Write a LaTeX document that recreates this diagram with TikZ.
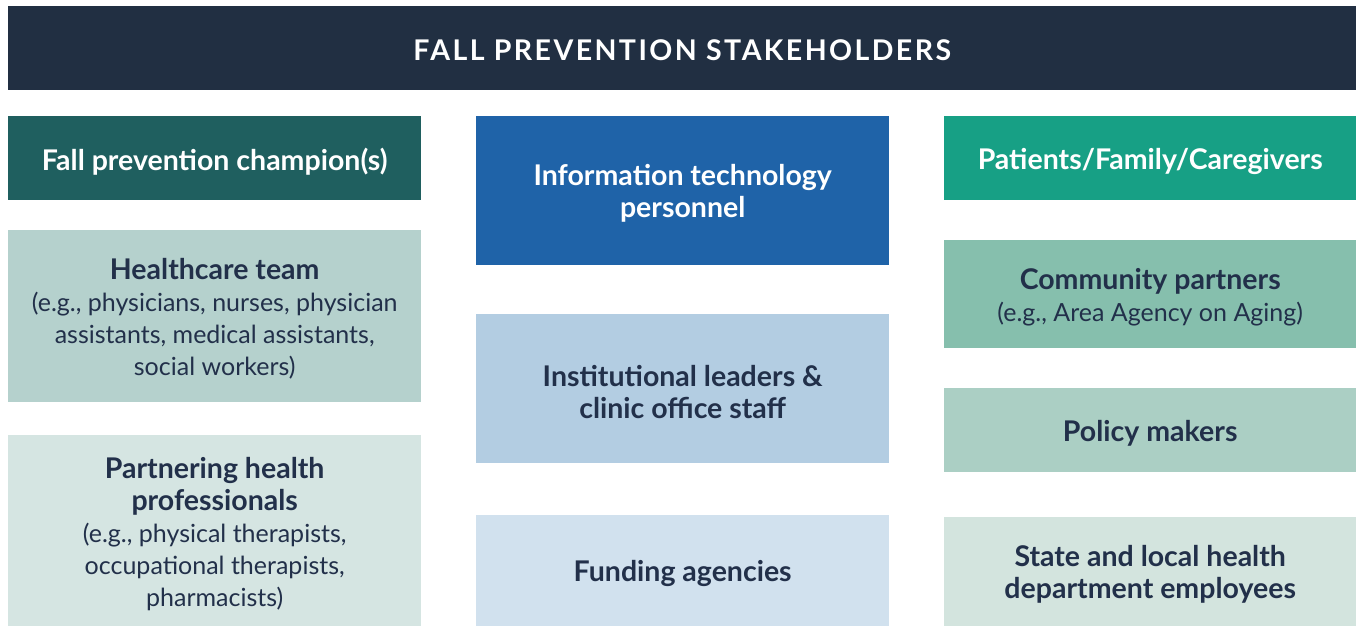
\documentclass[tikz,border=0pt]{standalone}
\usepackage{fontspec}
\setmainfont{Lato}
\definecolor{titlebg}{HTML}{212F42}
\definecolor{champ}{HTML}{1F5F5F}
\definecolor{hcteam}{HTML}{B5D1CD}
\definecolor{partner}{HTML}{D5E5E2}
\definecolor{itbg}{HTML}{1F63A8}
\definecolor{inst}{HTML}{B3CDE2}
\definecolor{fund}{HTML}{D1E1EE}
\definecolor{patient}{HTML}{17A085}
\definecolor{commun}{HTML}{86BFAD}
\definecolor{policy}{HTML}{ABCFC4}
\definecolor{state}{HTML}{D3E4DE}
\definecolor{darktext}{HTML}{22304A}
\newcommand{\hd}[1]{{\fontsize{28.5}{32}\selectfont\bfseries #1}}
\tikzset{
  panel/.style={anchor=north west, inner sep=0pt},
  box/.style={inner sep=0pt, align=center, font=\fontsize{25}{32}\selectfont},
  boldbox/.style={box, font=\fontsize{28.5}{32}\selectfont\bfseries},
  darkbox/.style={boldbox, text=white},
  lightbox/.style={box, text=darktext},
  lightbold/.style={boldbox, text=darktext},
}
\begin{document}
\begin{tikzpicture}[x=1pt,y=-1pt]
\useasboundingbox (0,0) rectangle (1356,626);
\node[panel, fill=titlebg, minimum width=1348pt, minimum height=84pt] (title) at (8,6) {};
\node[darkbox, font=\fontsize{28.5}{32}\selectfont\bfseries\addfontfeature{LetterSpace=8.5}] (titlet) at ([yshift=-2pt]title.center) {FALL PREVENTION STAKEHOLDERS};
% left column
\node[panel, fill=champ, minimum width=413pt, minimum height=84pt] (champ) at (8,116) {};
\node[darkbox] (champt) at ([yshift=-3pt]champ.center) {Fall prevention champion(s)};
\node[panel, fill=hcteam, minimum width=413pt, minimum height=172pt] (hc) at (8,230) {};
\node[lightbox] (hct) at ([yshift=-3pt]hc.center) {\hd{Healthcare team}\\(e.g., physicians, nurses, physician\\assistants, medical assistants,\\social workers)};
\node[panel, fill=partner, minimum width=413pt, minimum height=191pt] (ph) at (8,435) {};
\node[lightbox] (pht) at ([yshift=-3pt]ph.center) {\hd{Partnering health}\\\hd{professionals}\\(e.g., physical therapists,\\occupational therapists,\\pharmacists)};
% middle column
\node[panel, fill=itbg, minimum width=413pt, minimum height=149pt] (it) at (476,116) {};
\node[darkbox] (itt) at ([yshift=-3pt]it.center) {Information technology\\personnel};
\node[panel, fill=inst, minimum width=413pt, minimum height=149pt] (inst) at (476,314) {};
\node[lightbold] (instt) at ([yshift=-3pt]inst.center) {Institutional leaders \&\\clinic office staff};
\node[panel, fill=fund, minimum width=413pt, minimum height=111pt] (fund) at (476,515) {};
\node[lightbold] (fundt) at ([yshift=-3pt]fund.center) {Funding agencies};
% right column
\node[panel, fill=patient, minimum width=412pt, minimum height=84pt] (pat) at (944,116) {};
\node[darkbox] (patt) at ([yshift=-3pt]pat.center) {Patients/Family/Caregivers};
\node[panel, fill=commun, minimum width=412pt, minimum height=108pt] (comm) at (944,240) {};
\node[lightbox] (commt) at ([yshift=-3pt]comm.center) {\hd{Community partners}\\(e.g., Area Agency on Aging)};
\node[panel, fill=policy, minimum width=412pt, minimum height=84pt] (pol) at (944,388) {};
\node[lightbold] (polt) at ([yshift=-3pt]pol.center) {Policy makers};
\node[panel, fill=state, minimum width=412pt, minimum height=109pt] (st) at (944,517) {};
\node[lightbold] (stt) at ([yshift=-3pt]st.center) {State and local health\\department employees};
\end{tikzpicture}
\end{document}
